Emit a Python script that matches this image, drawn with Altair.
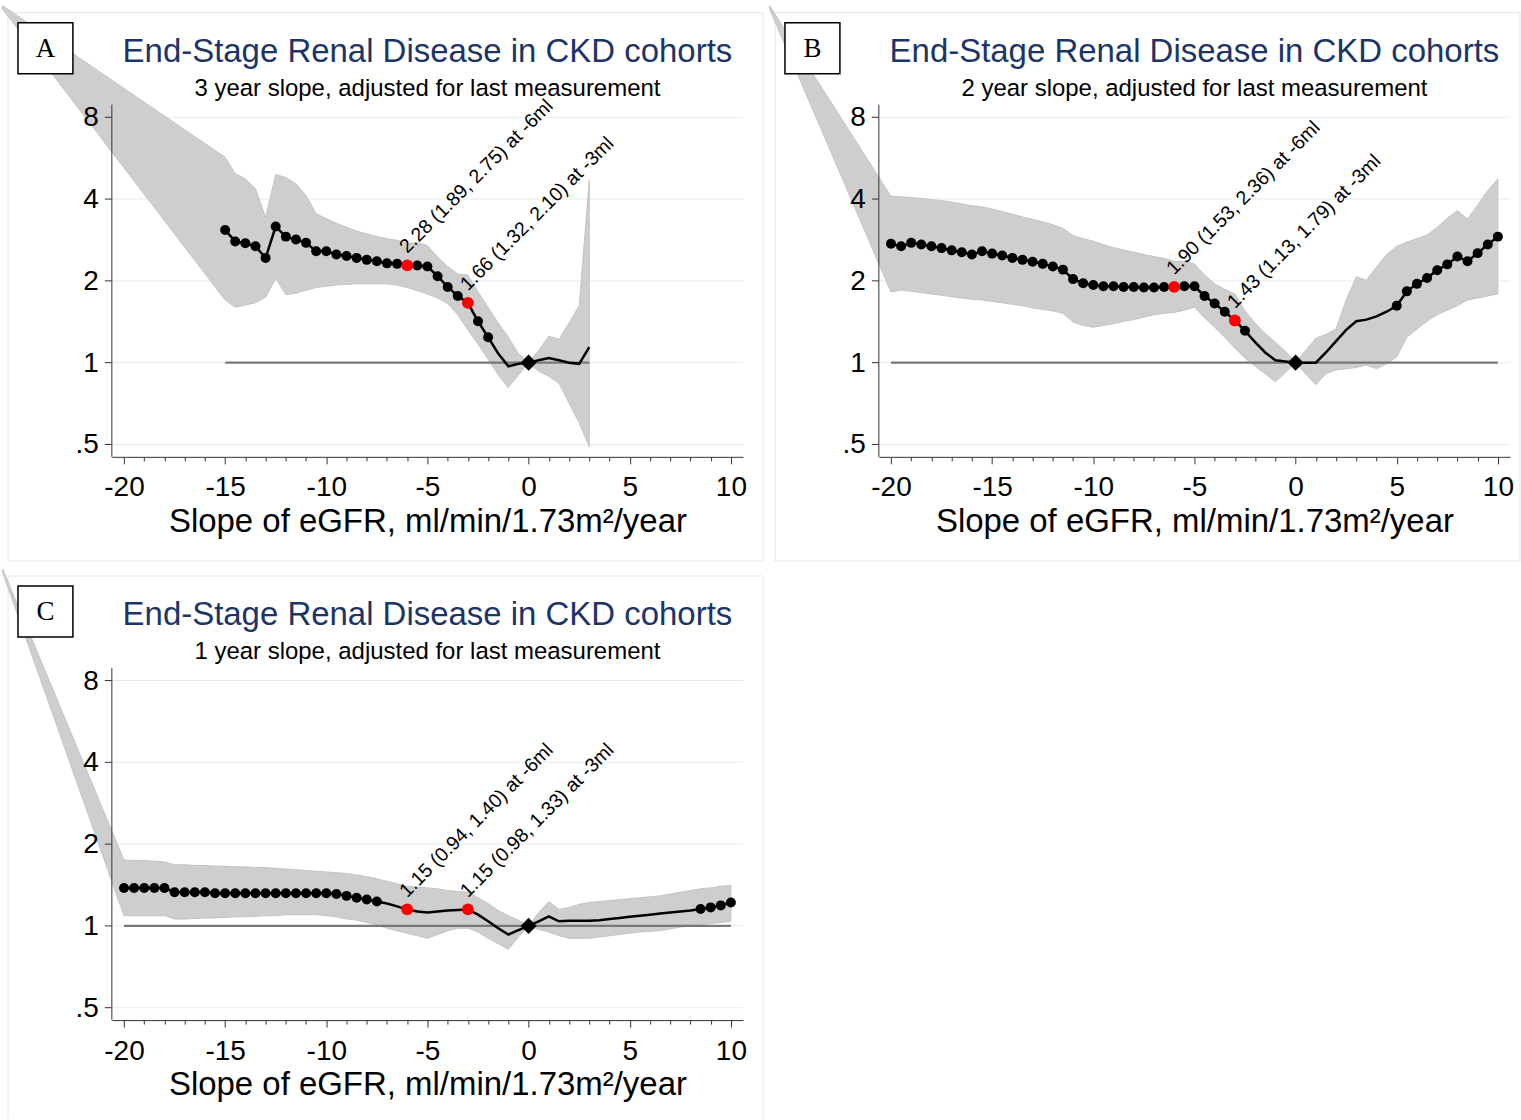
import altair as alt
import pandas as pd

SANS = "Liberation Sans"
SERIF = "Liberation Serif"
NAVY = "#1c3466"
BAND = "#cecece"
BAND_EDGE = "#c4c4c4"
REF = "#787878"
GRID = "#e4ebf0"
BORDER = "#e0e8ee"
AXIS = "#333333"

TITLE = "End-Stage Renal Disease in CKD cohorts"
X_TITLE = "Slope of eGFR, ml/min/1.73m\u00b2/year"
MARKED = (-6, -3)

# far-left vertex of the confidence band (slope, lower, upper)
TAIL_SLOPE, TAIL_LO, TAIL_HI = -26, 20.0, 20.6

# ---- Panel A: 3 year slope ----
SLOPES_A = [-15, -14.5, -14, -13.5, -13, -12.5, -12, -11.5, -11, -10.5, -10, -9.5,
            -9, -8.5, -8, -7.5, -7, -6.5, -6, -5.5, -5, -4.5, -4, -3.5, -3, -2.5,
            -2, -1.5, -1, -0.5, 0, 0.5, 1, 1.5, 2, 2.5, 3]
HR_A = [3.08, 2.79, 2.75, 2.68, 2.43, 3.17, 2.91, 2.84, 2.76, 2.57, 2.57, 2.50,
        2.47, 2.43, 2.39, 2.36, 2.32, 2.31, 2.28, 2.28, 2.26, 2.08, 1.90, 1.76, 1.66, 1.42,
        1.24, 1.08, 0.97, 0.99, 1.00, 1.02, 1.04, 1.02, 1.00, 0.99, 1.14]
LO_A = [1.70, 1.60, 1.63, 1.66, 1.74, 2.04, 1.78, 1.80, 1.85, 1.89, 1.91, 1.93,
        1.94, 1.95, 1.95, 1.95, 1.95, 1.93, 1.89, 1.84, 1.79, 1.73, 1.65, 1.50, 1.32, 1.17,
        1.03, 0.90, 0.81, 0.90, 1.00, 0.93, 0.89, 0.84, 0.71, 0.60, 0.49]
HI_A = [5.70, 4.96, 4.75, 4.36, 3.43, 4.93, 4.80, 4.55, 4.12, 3.53, 3.39, 3.26,
        3.15, 3.05, 2.98, 2.91, 2.86, 2.82, 2.75, 2.76, 2.70, 2.45, 2.26, 2.12, 2.10, 1.82,
        1.60, 1.40, 1.24, 1.08, 1.00, 1.11, 1.25, 1.22, 1.40, 1.62, 4.68]

# ---- Panels B and C share the -20..10 slope grid ----
SLOPES_BC = [-20, -19.5, -19, -18.5, -18, -17.5, -17, -16.5, -16, -15.5,
             -15, -14.5, -14, -13.5, -13, -12.5, -12, -11.5, -11, -10.5,
             -10, -9.5, -9, -8.5, -8, -7.5, -7, -6.5, -6, -5.5,
             -5, -4.5, -4, -3.5, -3, -2.5, -2, -1.5, -1, -0.5,
             0, 0.5, 1, 1.5, 2, 2.5, 3, 3.5, 4, 4.5,
             5, 5.5, 6, 6.5, 7, 7.5, 8, 8.5, 9, 9.5, 10]

# Panel B: 2 year slope
HR_B = [2.74, 2.68, 2.76, 2.72, 2.68, 2.64, 2.59, 2.55, 2.50, 2.57,
        2.52, 2.48, 2.43, 2.39, 2.35, 2.31, 2.26, 2.20, 2.03, 1.96,
        1.93, 1.91, 1.91, 1.90, 1.90, 1.89, 1.89, 1.90, 1.90, 1.91,
        1.91, 1.76, 1.65, 1.54, 1.43, 1.31, 1.19, 1.09, 1.02, 1.01,
        1.00, 1.00, 1.00, 1.09, 1.20, 1.32, 1.42, 1.44, 1.48, 1.54,
        1.62, 1.83, 1.95, 2.05, 2.19, 2.30, 2.46, 2.36, 2.53, 2.72, 2.91]
LO_B = [1.82, 1.85, 1.83, 1.81, 1.79, 1.77, 1.75, 1.73, 1.71, 1.70,
        1.68, 1.66, 1.64, 1.62, 1.59, 1.57, 1.55, 1.52, 1.41, 1.37,
        1.35, 1.37, 1.39, 1.42, 1.44, 1.47, 1.50, 1.52, 1.53, 1.56,
        1.60, 1.46, 1.35, 1.24, 1.13, 1.04, 0.97, 0.91, 0.85, 0.92,
        1.00, 0.91, 0.83, 0.91, 0.94, 0.95, 0.96, 0.98, 0.95, 0.99,
        1.05, 1.24, 1.33, 1.42, 1.50, 1.56, 1.62, 1.70, 1.73, 1.76, 1.79]
HI_B = [4.10, 4.08, 4.05, 4.02, 3.98, 3.95, 3.90, 3.84, 3.78, 3.74,
        3.68, 3.60, 3.52, 3.44, 3.37, 3.30, 3.22, 3.12, 2.94, 2.86,
        2.80, 2.72, 2.65, 2.60, 2.55, 2.50, 2.46, 2.42, 2.36, 2.36,
        2.31, 2.10, 1.95, 1.86, 1.79, 1.55, 1.40, 1.28, 1.19, 1.10,
        1.00, 1.11, 1.23, 1.27, 1.33, 1.70, 2.07, 2.01, 2.25, 2.50,
        2.68, 2.78, 2.86, 2.95, 3.15, 3.40, 3.63, 3.38, 3.80, 4.30, 4.75]

# Panel C: 1 year slope
HR_C = [1.38, 1.38, 1.38, 1.38, 1.38, 1.33, 1.33, 1.33, 1.33, 1.32,
        1.32, 1.32, 1.32, 1.32, 1.32, 1.32, 1.32, 1.32, 1.32, 1.32,
        1.32, 1.31, 1.29, 1.27, 1.25, 1.23, 1.21, 1.18, 1.15, 1.13,
        1.12, 1.13, 1.14, 1.145, 1.15, 1.10, 1.04, 0.98, 0.93, 0.965,
        1.00, 1.04, 1.085, 1.04, 1.045, 1.045, 1.045, 1.05, 1.06, 1.07,
        1.08, 1.09, 1.10, 1.11, 1.12, 1.13, 1.14, 1.155, 1.17, 1.19, 1.22]
LO_C = [1.09, 1.09, 1.09, 1.09, 1.09, 1.06, 1.06, 1.065, 1.07, 1.07,
        1.075, 1.08, 1.08, 1.085, 1.09, 1.09, 1.10, 1.10, 1.10, 1.10,
        1.09, 1.08, 1.06, 1.05, 1.03, 1.01, 0.98, 0.96, 0.94, 0.92,
        0.90, 0.93, 0.96, 0.98, 0.98, 0.95, 0.90, 0.86, 0.82, 0.91,
        1.00, 0.97, 0.95, 0.92, 0.90, 0.90, 0.90, 0.91, 0.92, 0.93,
        0.94, 0.95, 0.955, 0.96, 0.975, 0.99, 0.998, 1.01, 1.02, 1.03, 1.04]
HI_C = [1.75, 1.74, 1.74, 1.73, 1.72, 1.68, 1.68, 1.67, 1.67, 1.66,
        1.66, 1.65, 1.65, 1.64, 1.64, 1.63, 1.62, 1.61, 1.60, 1.59,
        1.58, 1.57, 1.56, 1.54, 1.52, 1.49, 1.46, 1.43, 1.40, 1.39,
        1.38, 1.37, 1.35, 1.34, 1.33, 1.27, 1.21, 1.14, 1.09, 1.05,
        1.00, 1.12, 1.23, 1.15, 1.17, 1.20, 1.22, 1.23, 1.24, 1.25,
        1.26, 1.27, 1.28, 1.29, 1.31, 1.33, 1.35, 1.37, 1.38, 1.40, 1.41]

X_MAJOR = [-20, -15, -10, -5, 0, 5, 10]
X_MINOR = [v for v in range(-20, 11) if v % 5 != 0]
Y_TICKS = [0.5, 1, 2, 4, 8]
Y_LABELS = [".5", "1", "2", "4", "8"]

# scale geometry of the plot region inside each panel cell
X_DOMAIN, X_RANGE = [-20.6, 10.6], [110, 742]
Y_DOMAIN, Y_RANGE = [0.4502, 8.908], [456.7, 104]
X_AXIS_AT = 456.7
Y_AXIS_AT = 110


def frames(slopes, hr, lo, hi):
    est = pd.DataFrame({"slope": slopes, "hr": hr, "lo": lo, "hi": hi})

    def kind(r):
        if r.slope in MARKED:
            return "marked"
        if r.slope == 0:
            return "reference"
        return "sig" if r.lo > 1 else "ns"

    est["kind"] = [kind(r) for r in est.itertuples()]
    tail = pd.DataFrame({"slope": [TAIL_SLOPE], "lo": [TAIL_LO], "hi": [TAIL_HI]})
    band = pd.concat([tail, est[["slope", "lo", "hi"]]], ignore_index=True)
    notes = est[est["kind"] == "marked"].copy()
    notes["label"] = [f"{r.hr:.2f} ({r.lo:.2f}, {r.hi:.2f}) at {int(r.slope)}ml"
                      for r in notes.itertuples()]
    ref = pd.DataFrame({"x0": [min(slopes)], "x1": [max(slopes)], "h": [1.0]})
    return est, band, notes, ref


def panel(letter, subtitle, slopes, hr, lo, hi, width, height):
    est, band, notes, ref = frames(slopes, hr, lo, hi)
    one = pd.DataFrame({"k": [0]})
    yticks = pd.DataFrame({"v": Y_TICKS, "lab": Y_LABELS,
                           "xa": X_DOMAIN[0], "xb": X_DOMAIN[1]})
    yspan = pd.DataFrame({"xa": [X_DOMAIN[0]], "y0": [Y_DOMAIN[0]], "y1": [Y_DOMAIN[1]]})
    xs = alt.Scale(domain=X_DOMAIN, range=X_RANGE, nice=False, zero=False)
    ys = alt.Scale(type="log", domain=Y_DOMAIN, range=Y_RANGE, nice=False)
    xoff = X_AXIS_AT - height

    major_x = alt.Axis(values=X_MAJOR, labelExpr="'' + datum.value", orient="bottom",
                       offset=xoff, grid=False, domainColor=AXIS, domainWidth=1,
                       tickColor=AXIS, tickSize=7, tickWidth=1,
                       labelFont=SANS, labelFontSize=28, labelColor="black",
                       labelPadding=10, labelFlush=False, labelOverlap=False,
                       title=X_TITLE, titleFont=SANS, titleFontSize=33,
                       titleFontWeight="normal", titleColor="black",
                       titleBaseline="alphabetic", titleY=74.3)
    minor_x = alt.Axis(values=X_MINOR, orient="bottom", offset=xoff, labels=False,
                       domain=False, grid=False, tickColor=AXIS, tickSize=4,
                       tickWidth=1, title=None)

    nx = dict(scale=xs, axis=None)
    ny = dict(scale=ys, axis=None)

    border = alt.Chart(one).mark_rect(filled=False, stroke=BORDER, strokeWidth=1,
                                      clip=True).encode(
        x=alt.value(6), x2=alt.value(width - 1 if width < 768 else width - 6),
        y=alt.value(12), y2=alt.value(561))

    # horizontal grid, y axis line, ticks and labels
    ygrid = alt.Chart(yticks).mark_rule(color=GRID, strokeWidth=1).encode(
        x=alt.X("xa:Q", **nx), x2="xb:Q", y=alt.Y("v:Q", **ny))
    yline = alt.Chart(yspan).mark_rule(color=AXIS, strokeWidth=1).encode(
        x=alt.X("xa:Q", **nx), y=alt.Y("y0:Q", **ny), y2="y1:Q")
    ytick = alt.Chart(yticks).mark_rule(color=AXIS, strokeWidth=1).encode(
        x=alt.X("xa:Q", **nx), x2=alt.value(Y_AXIS_AT - 7), y=alt.Y("v:Q", **ny))
    ylab = alt.Chart(yticks).mark_text(align="right", baseline="middle", dx=-13, dy=1,
                                       font=SANS, fontSize=28, color="black").encode(
        x=alt.X("xa:Q", **nx), y=alt.Y("v:Q", **ny), text="lab:N")

    band_layer = alt.Chart(band).mark_area(color=BAND, stroke=BAND_EDGE,
                                           strokeWidth=1, opacity=1).encode(
        x=alt.X("slope:Q", scale=xs, axis=major_x),
        y=alt.Y("lo:Q", **ny),
        y2="hi:Q")

    ref_layer = alt.Chart(ref).mark_rule(color=REF, strokeWidth=2.2).encode(
        x=alt.X("x0:Q", scale=xs, axis=minor_x), x2="x1:Q",
        y=alt.Y("h:Q", **ny))

    enc = dict(x=alt.X("slope:Q", **nx), y=alt.Y("hr:Q", **ny))

    line = alt.Chart(est).mark_line(color="black", strokeWidth=2.5).encode(**enc)
    dots = alt.Chart(est).mark_circle(color="black", size=100, opacity=1).encode(
        **enc).transform_filter(alt.datum.kind == "sig")
    red = alt.Chart(est).mark_circle(color="#ff0000", size=140, opacity=1).encode(
        **enc).transform_filter(alt.datum.kind == "marked")
    diamond = alt.Chart(est).mark_point(shape="diamond", filled=True, color="black",
                                        size=260, opacity=1).encode(
        **enc).transform_filter(alt.datum.kind == "reference")
    labels = alt.Chart(notes).mark_text(angle=315, align="left", baseline="alphabetic",
                                        dx=8, dy=-8, font=SANS, fontSize=19.5,
                                        color="black").encode(
        text="label:N", **enc)

    title = alt.Chart(one).mark_text(text=TITLE, font=SANS, fontSize=33, color=NAVY,
                                     align="center", baseline="alphabetic").encode(
        x=alt.value(426), y=alt.value(61))
    sub = alt.Chart(one).mark_text(text=subtitle, font=SANS, fontSize=24,
                                   color="black", align="center",
                                   baseline="alphabetic").encode(
        x=alt.value(426), y=alt.value(95))
    box = alt.Chart(one).mark_rect(fill="white", stroke="black", strokeWidth=1.5).encode(
        x=alt.value(16), x2=alt.value(71), y=alt.value(22), y2=alt.value(73))
    tag = alt.Chart(one).mark_text(text=letter, font=SERIF, fontSize=27, color="black",
                                   align="center", baseline="alphabetic").encode(
        x=alt.value(43.5), y=alt.value(56))

    return alt.layer(border, ygrid, band_layer, ref_layer, yline, ytick, ylab,
                     line, dots, red, diamond, labels,
                     title, sub, box, tag).resolve_axis(x="independent").properties(
        width=width, height=height)


pa = panel("A", "3 year slope, adjusted for last measurement",
           SLOPES_A, HR_A, LO_A, HI_A, 768, 564)
pb = panel("B", "2 year slope, adjusted for last measurement",
           SLOPES_BC, HR_B, LO_B, HI_B, 753, 564)
pc = panel("C", "1 year slope, adjusted for last measurement",
           SLOPES_BC, HR_C, LO_C, HI_C, 768, 556)

chart = alt.concat(pa, pb, pc, columns=2, spacing=0, bounds="flush").properties(
    padding=0, background="white").configure_view(stroke=None)

chart.save("out.html", embed_options={"renderer": "svg", "actions": False})
